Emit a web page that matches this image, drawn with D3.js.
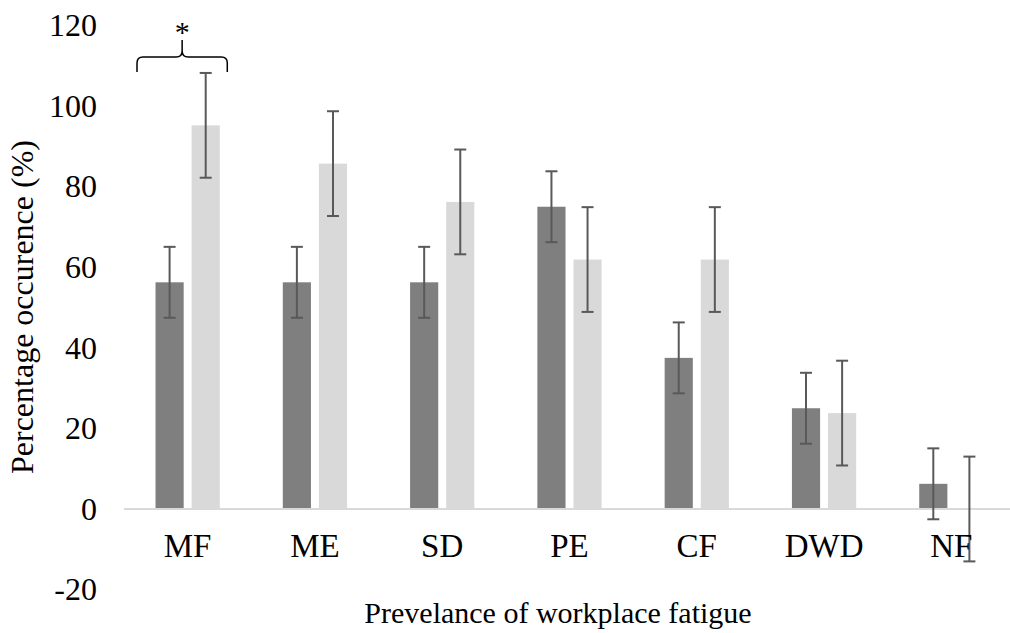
<!DOCTYPE html>
<html>
<head>
<meta charset="utf-8">
<script src="https://cdn.jsdelivr.net/npm/d3@7"></script>
<style>
  html, body { margin: 0; padding: 0; background: #fff; }
  svg text { font-family: "Liberation Serif", "Times New Roman", serif; fill: #000; }
</style>
</head>
<body>
<svg id="chart" width="1010" height="633"></svg>
<script>
// Fatigue categories and occurrence (%) for the two groups
const categories = ["MF", "ME", "SD", "PE", "CF", "DWD", "NF"];
const seriesNames = ["groupA", "groupB"];
const groupA = [56.25, 56.25, 56.25, 75, 37.5, 25, 6.25];
const groupB = [95.2, 85.7, 76.2, 61.9, 61.9, 23.8, 0];
const groupAErr = [8.8, 8.8, 8.8, 8.8, 8.8, 8.8, 8.8];
const groupBErr = [13, 13, 13, 13, 13, 13, 13];
const yTicks = [-20, 0, 20, 40, 60, 80, 100, 120];
const yTitle = "Percentage occurence (%)";
const xTitle = "Prevelance of workplace fatigue";
const sigCategory = "MF";

const colors = { groupA: "#7f7f7f", groupB: "#d9d9d9" };
const values = { groupA, groupB };
const errors = { groupA: groupAErr, groupB: groupBErr };

const svg = d3.select("#chart");

const y = d3.scaleLinear().domain([-20, 120]).range([589.6, 25.4]);
const x0 = d3.scaleBand().domain(categories).range([124, 1015]).padding(0);
const x1 = d3.scaleBand().domain(seriesNames).range([0, x0.bandwidth()])
  .paddingInner(0.22).paddingOuter(0.873);

const rows = categories.flatMap((c, i) => seriesNames.map(s => ({
  cat: c, series: s, value: values[s][i], err: errors[s][i]
})));

// bars
svg.append("g").selectAll("rect").data(rows).join("rect")
  .attr("x", d => x0(d.cat) + x1(d.series))
  .attr("width", x1.bandwidth())
  .attr("y", d => y(Math.max(0, d.value)))
  .attr("height", d => Math.abs(y(d.value) - y(0)))
  .attr("fill", d => colors[d.series]);

// zero baseline
svg.append("line")
  .attr("x1", x0.range()[0]).attr("x2", x0.range()[1])
  .attr("y1", y(0)).attr("y2", y(0))
  .attr("stroke", "#d9d9d9").attr("stroke-width", 2);

// error bars
const eb = svg.append("g").attr("stroke", "#595959").attr("stroke-width", 2);
const capHalf = 6;
rows.forEach(d => {
  const cx = x0(d.cat) + x1(d.series) + x1.bandwidth() / 2;
  const hi = y(d.value + d.err), lo = y(d.value - d.err);
  eb.append("line").attr("x1", cx).attr("x2", cx).attr("y1", hi).attr("y2", lo);
  eb.append("line").attr("x1", cx - capHalf).attr("x2", cx + capHalf).attr("y1", hi).attr("y2", hi);
  eb.append("line").attr("x1", cx - capHalf).attr("x2", cx + capHalf).attr("y1", lo).attr("y2", lo);
});

// y axis tick labels
svg.append("g").selectAll("text").data(yTicks).join("text")
  .attr("x", 97).attr("y", d => y(d))
  .attr("dy", "0.34em")
  .attr("text-anchor", "end")
  .attr("font-size", 32)
  .text(d => d);

// category labels
svg.append("g").selectAll("text").data(categories).join("text")
  .attr("x", d => x0(d) + x0.bandwidth() / 2)
  .attr("y", 556.5)
  .attr("text-anchor", "middle")
  .attr("font-size", 33)
  .text(d => d);

// axis titles
svg.append("text")
  .attr("x", 558).attr("y", 623)
  .attr("text-anchor", "middle")
  .attr("font-size", 30)
  .text(xTitle);

svg.append("text")
  .attr("transform", "translate(33,307) rotate(-90)")
  .attr("text-anchor", "middle")
  .attr("font-size", 32)
  .text(yTitle);

// significance bracket over the first category
const bx0 = x0(sigCategory) + 13, bx1 = x0(sigCategory) + x0.bandwidth() - 24;
const bm = (bx0 + bx1) / 2;
const yEnd = 72, yBar = 57, yTip = 40, r = 6;
const bracket = d3.path();
bracket.moveTo(bx0, yEnd);
bracket.lineTo(bx0, yBar + r);
bracket.quadraticCurveTo(bx0, yBar, bx0 + r, yBar);
bracket.lineTo(bm - r, yBar);
bracket.quadraticCurveTo(bm, yBar, bm, yBar - r);
bracket.lineTo(bm, yTip);
bracket.moveTo(bm, yBar - r);
bracket.quadraticCurveTo(bm, yBar, bm + r, yBar);
bracket.lineTo(bx1 - r, yBar);
bracket.quadraticCurveTo(bx1, yBar, bx1, yBar + r);
bracket.lineTo(bx1, yEnd);
svg.append("path").attr("d", bracket.toString())
  .attr("fill", "none").attr("stroke", "#000").attr("stroke-width", 1.5);

svg.append("text")
  .attr("x", bm).attr("y", 42)
  .attr("text-anchor", "middle")
  .attr("font-size", 30)
  .text("*");
</script>
</body>
</html>
